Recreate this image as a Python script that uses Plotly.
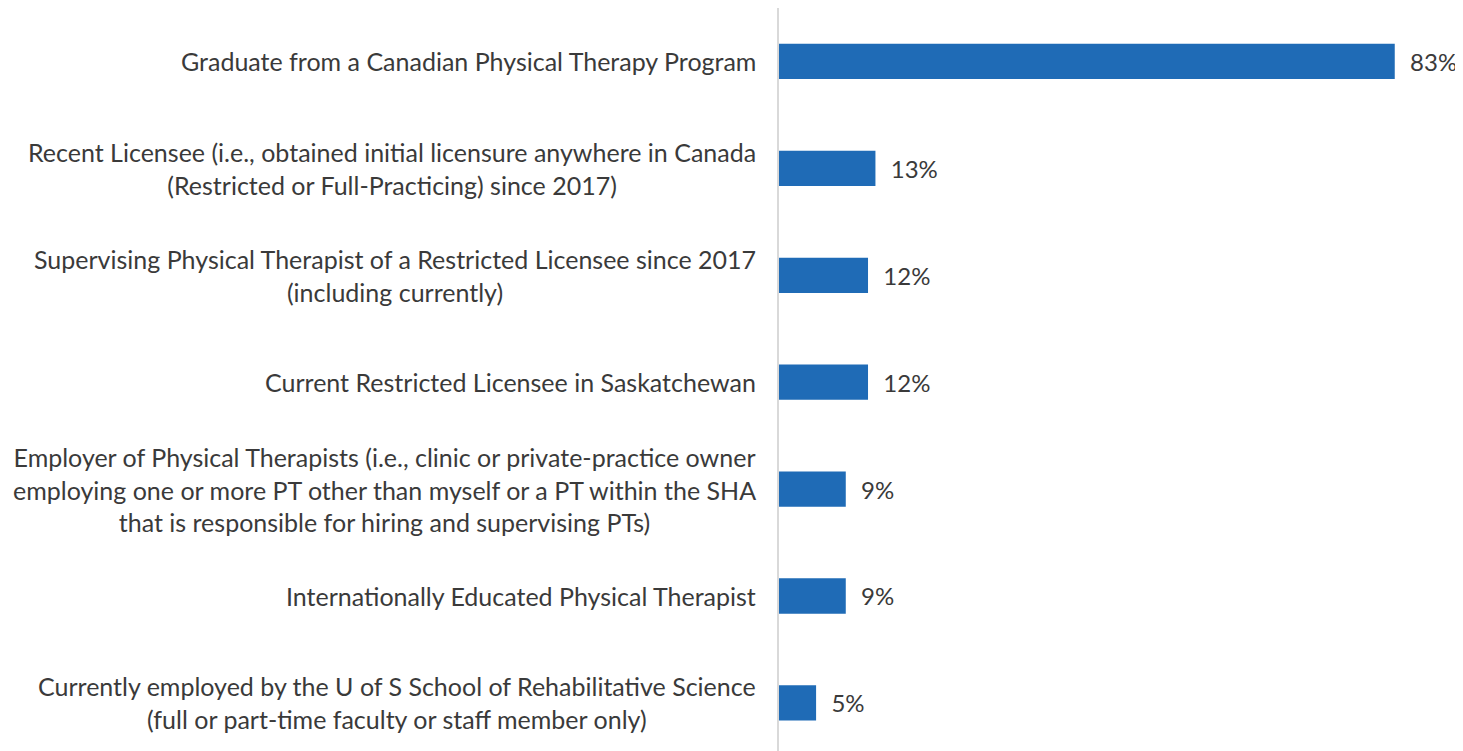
import plotly.graph_objects as go

categories = [
    "Graduate from a Canadian Physical Therapy Program",
    "Recent Licensee (i.e., obtained initial licensure anywhere in Canada<br>(Restricted or Full-Practicing) since 2017)",
    "Supervising Physical Therapist of a Restricted Licensee since 2017<br>(including currently)",
    "Current Restricted Licensee in Saskatchewan",
    "Employer of Physical Therapists (i.e., clinic or private-practice owner<br>employing one or more PT other than myself or a PT within the SHA<br>that is responsible for hiring and supervising PTs)",
    "Internationally Educated Physical Therapist",
    "Currently employed by the U of S School of Rehabilitative Science<br>(full or part-time faculty or staff member only)",
]
values = [83, 13, 12, 12, 9, 9, 5]

FONT = "Lato, Calibri, Carlito, sans-serif"
TXT = "#3a3a3a"
BAR = "#1f6bb6"

idx = list(range(len(categories)))

fig = go.Figure(go.Bar(
    x=values,
    y=idx,
    orientation="h",
    marker=dict(color=BAR, line=dict(width=0)),
    width=0.33,
    text=[f"{v}%" for v in values],
    texttemplate="  %{text}",
    textposition="outside",
    textfont=dict(family=FONT, size=24, color=TXT),
    cliponaxis=False,
    hoverinfo="skip",
))

for i, c in enumerate(categories):
    fig.add_annotation(
        x=0, xref="paper", y=i, yref="y",
        text=c, showarrow=False, xanchor="right", yanchor="middle",
        align="center", xshift=-21,
        font=dict(family=FONT, size=25, color=TXT),
    )

fig.update_layout(
    width=1455, height=743,
    margin=dict(l=771, r=0, t=0, b=0),
    plot_bgcolor="white", paper_bgcolor="white",
    showlegend=False,
    xaxis=dict(range=[0, 92.2], visible=False, showgrid=False, zeroline=False),
    yaxis=dict(range=[6.45, -0.5], showticklabels=False, showgrid=False,
               zeroline=False, showline=True, linecolor="#d9d9d9", linewidth=2,
               ticks=""),
)

fig.write_html("out.html")
